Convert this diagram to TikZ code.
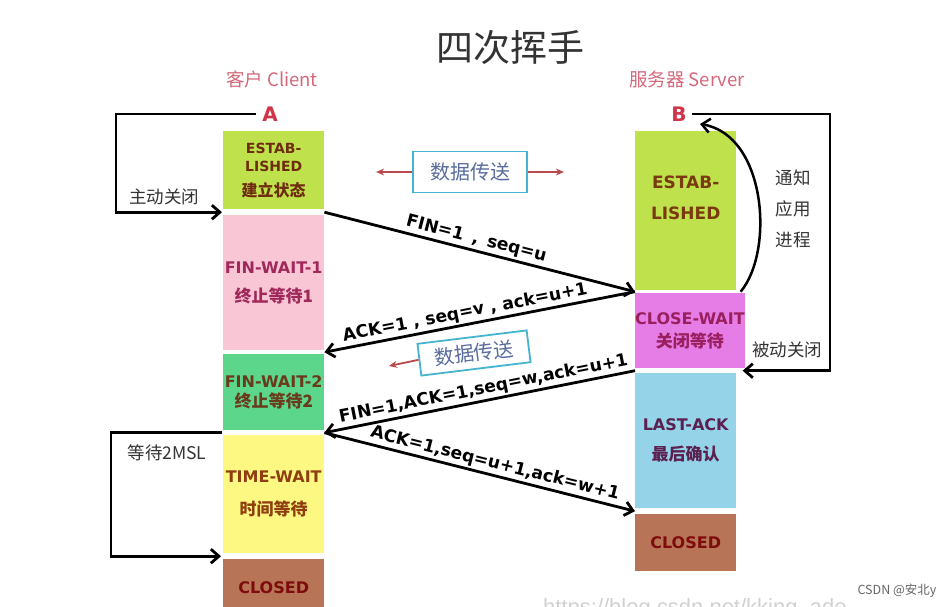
\documentclass[tikz,border=0pt]{standalone}
\usepackage{fontspec}
\setmainfont{DejaVu Sans}
\newfontfamily\cjkfont{Noto Sans CJK SC}
\newfontfamily\latfont{DejaVu Sans}
\newfontfamily\wmfont{Liberation Sans}
\usetikzlibrary{arrows.meta,calc}
\definecolor{cEst}{HTML}{BFE14C}
\definecolor{cFWa}{HTML}{F9C6D6}
\definecolor{cFWb}{HTML}{5CD68A}
\definecolor{cTW}{HTML}{FDF882}
\definecolor{cCl}{HTML}{B87456}
\definecolor{cCW}{HTML}{E67DE6}
\definecolor{cLA}{HTML}{95D3E9}
\definecolor{cRed}{HTML}{D0344A}
\definecolor{cPink}{HTML}{D4687A}
\definecolor{cDataTxt}{HTML}{5A6C9E}
\definecolor{cDataBd}{HTML}{45B5CF}
\definecolor{cDataArr}{HTML}{B84A4E}
\definecolor{tEst}{HTML}{6E2C0E}
\definecolor{tEstR}{HTML}{7A3A10}
\definecolor{tFWa}{HTML}{A0285A}
\definecolor{tFWb}{HTML}{6A3A1C}
\definecolor{tTW}{HTML}{8E3E10}
\definecolor{tCl}{HTML}{7E0C0C}
\definecolor{tCW}{HTML}{9A1F5E}
\definecolor{tLA}{HTML}{5C2050}
\definecolor{cTxt}{HTML}{333333}
\newcommand\boxlat[1]{{\latfont\bfseries #1}}
\newcommand\boxcjk[1]{{\cjkfont\bfseries #1}}
\begin{document}
\begin{tikzpicture}[x=1pt,y=-1pt,
  statebox/.style={anchor=north west, minimum width=101pt, inner sep=0pt, align=center},
  note/.style={text=cTxt, font=\cjkfont\fontsize{17.5}{20}\selectfont, inner sep=1pt},
  msg/.style={line width=2.8pt, -{Straight Barb[length=8pt,width=14pt]}},
  lbl/.style={sloped, above, font=\latfont\bfseries\fontsize{17.2}{20}\selectfont, text=black, inner sep=2pt},
  databox/.style={draw=cDataBd, line width=1.8pt, fill=white, text=cDataTxt, font=\cjkfont\fontsize{20}{22}\selectfont, inner sep=0pt},
  redarr/.style={draw=cDataArr, line width=1.8pt, -{Stealth[length=8pt,width=7pt]}}]
\useasboundingbox (0,0) rectangle (951,607);
\clip (0,0) rectangle (951,607);
\fill[white] (0,0) rectangle (951,607);

% titles
\node[font=\cjkfont\fontsize{37}{42}\selectfont, text=cTxt] (title) at (510,48) {四次挥手};
\node[font=\cjkfont\fontsize{18.5}{21}\selectfont, text=cPink] (client) at (272,79) {客户 Client};
\node[font=\cjkfont\fontsize{18.5}{21}\selectfont, text=cPink] (server) at (687,79) {服务器 Server};
\node[font=\latfont\bfseries\fontsize{20}{24}\selectfont, text=cRed, inner sep=1pt] (A) at (270,114) {A};
\node[font=\latfont\bfseries\fontsize{20}{24}\selectfont, text=cRed, inner sep=1pt] (B) at (679,114) {B};

% client states
\node[statebox, fill=cEst, minimum height=78pt, text=tEst, font=\fontsize{14}{18}\selectfont] (estL) at (223,131)
  {\boxlat{ESTAB-}\\\boxlat{LISHED}\\[7pt]{\fontsize{16}{18}\selectfont\boxcjk{建立状态}}};
\node[statebox, fill=cFWa, minimum height=135pt, text=tFWa, font=\fontsize{16}{20}\selectfont] (fw1) at (223,215)
  {\boxlat{FIN-WAIT-1}\\[9pt]{\fontsize{17}{20}\selectfont\boxcjk{终止等待1}}};
\node[statebox, fill=cFWb, minimum height=76pt, text=tFWb, font=\fontsize{16}{20}\selectfont] (fw2) at (223,354)
  {\boxlat{FIN-WAIT-2}\\{\fontsize{17}{20}\selectfont\boxcjk{终止等待2}}};
\node[statebox, fill=cTW, minimum height=118pt, text=tTW, font=\fontsize{16}{20}\selectfont] (tw) at (223,435)
  {\boxlat{TIME-WAIT}\\[13pt]{\fontsize{17}{20}\selectfont\boxcjk{时间等待}}};
\node[statebox, fill=cCl, minimum height=56pt, text=tCl, font=\fontsize{16}{20}\selectfont] (clL) at (223,559)
  {\boxlat{CLOSED}};

% server states
\node[statebox, fill=cEst, minimum height=159pt, text=tEstR, font=\fontsize{17}{21}\selectfont] (estR) at (635,131)
  {\boxlat{ESTAB-}\\[10pt]\boxlat{LISHED}\\[5pt]};
\node[statebox, fill=cCW, minimum height=75pt, text=tCW, font=\fontsize{16}{20}\selectfont] (cw) at (635,293)
  {\boxlat{CLOSE-WAIT}\\[3pt]{\fontsize{17}{20}\selectfont\boxcjk{关闭等待}}};
\node[statebox, fill=cLA, minimum height=135pt, text=tLA, font=\fontsize{16}{20}\selectfont] (la) at (635,373)
  {\boxlat{LAST-ACK}\\[10pt]{\fontsize{17}{20}\selectfont\boxcjk{最后确认}}};
\node[statebox, fill=cCl, minimum height=57pt, text=tCl, font=\fontsize{16}{20}\selectfont] (clR) at (635,514)
  {\boxlat{CLOSED}};

% gap points
\coordinate (gA)  at ($(estL.south west)!.5!(fw1.north west)$);
\coordinate (gEL) at ($(estL.south east)!.5!(fw1.north east)$);
\coordinate (gER) at ($(estR.south west)!.5!(cw.north west)$);
\coordinate (gERe) at ($(estR.south east)!.5!(cw.north east)$);
\coordinate (gFa) at ($(fw1.south east)!.5!(fw2.north east)$);
\coordinate (gCWL) at ($(cw.south west)!.5!(la.north west)$);
\coordinate (gCWR) at ($(cw.south east)!.5!(la.north east)$);
\coordinate (gFb) at ($(fw2.south east)!.5!(tw.north east)$);
\coordinate (gFbW) at ($(fw2.south west)!.5!(tw.north west)$);
\coordinate (gTW) at ($(tw.south west)!.5!(clL.north west)$);
\coordinate (gLA) at ($(la.south west)!.5!(clR.north west)$);
\coordinate (bT)  at (700,124);
\coordinate (cB)  at (830,250);

% side loops
\draw[msg] ([xshift=-5pt]A.west) -- ++(-140,0) |- ([xshift=-1pt]gA);
\node[note] (zd) at (164,197) {主动关闭};
\draw[msg] ([xshift=-1pt]gFbW) -- ++(-111,0) |- ([xshift=-2pt]gTW);
\node[note] (wait) at (167,453) {等待2MSL};
\draw[msg] ([xshift=4pt]B.east) -| (cB) |- ([xshift=2pt]gCWR);
\node[note] (bd) at (787,350) {被动关闭};
\draw[line width=2.5pt, -{Straight Barb[length=8pt,width=14pt]}] (gERe) .. controls +(34,-41) and +(66,11) .. (bT);
\node[note, align=center, font=\cjkfont\fontsize{17.5}{31}\selectfont] (tz) at (793,209) {通知\\应用\\进程};

% data transfer
\node[databox, minimum width=114pt, minimum height=41pt] (data1) at (470,172) {数据传送};
\draw[redarr] (data1.west) -- ++(-36,0);
\draw[redarr] (data1.east) -- ++(36,0);
\node[databox, minimum width=110pt, minimum height=32pt, rotate=7] (data2) at (474,353) {数据传送};
\coordinate (dT) at (389,366);
\draw[redarr] (data2.west) -- (dT);

% messages
\draw[msg] (gEL) -- node[lbl, pos=0.48] {FIN=1 \,, \,seq=u} (gER);
\draw[msg] (gER) -- node[lbl, pos=0.54] {ACK=1 , seq=v , ack=u+1} (gFa);
\draw[msg] (gCWL) -- node[lbl, pos=0.48] {FIN=1,ACK=1,seq=w,ack=u+1} (gFb);
\draw[msg] (gFb) -- node[lbl, pos=0.54] {ACK=1,seq=u+1,ack=w+1} (gLA);

% watermarks
\node[font=\cjkfont\fontsize{12.5}{15}\selectfont, text=black!60] (csdn) at (897,591) {CSDN @安北y};
\node[anchor=base west, inner sep=0pt, font=\wmfont\fontsize{22}{26}\selectfont, text=black!18] (url) at (543,614) {https://blog.csdn.net/kking\_ade};
\end{tikzpicture}
\end{document}
